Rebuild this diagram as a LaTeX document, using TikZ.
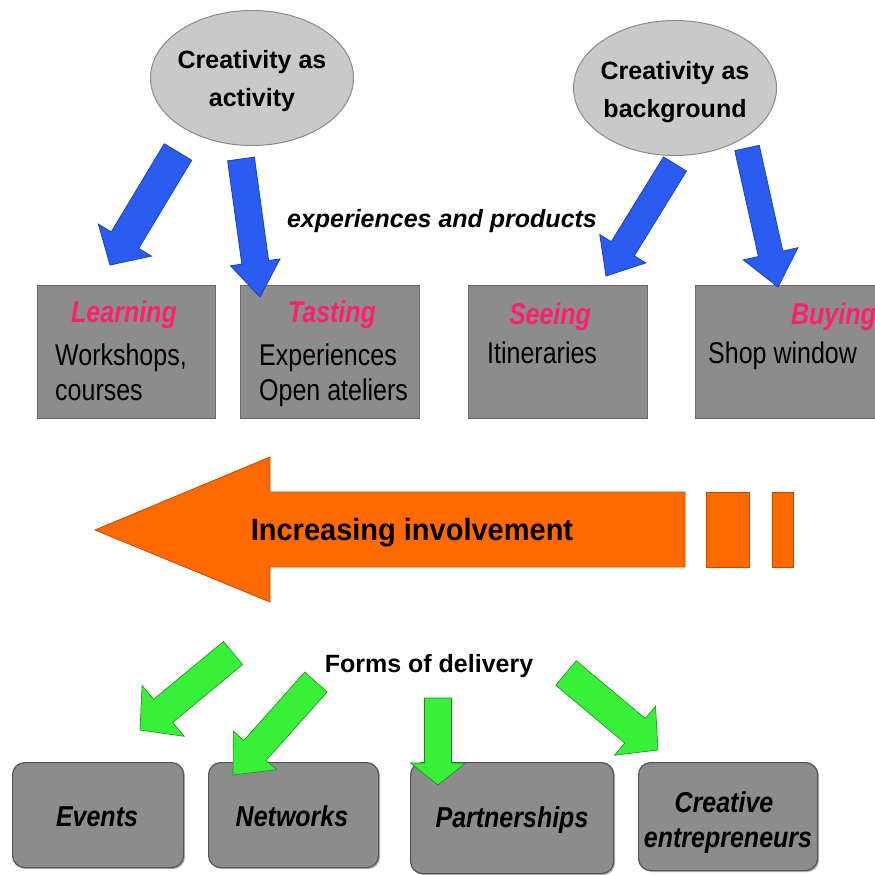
\documentclass[tikz,border=0pt]{standalone}
\usepackage{fontspec}
\usepackage{graphicx}
\setmainfont{Liberation Sans}
\usetikzlibrary{calc,shadows,shapes.geometric}

\definecolor{bluearr}{HTML}{2A5CF2}
\definecolor{bluearrd}{HTML}{1C40B8}
\definecolor{greenarr}{HTML}{38F038}
\definecolor{greenarrd}{HTML}{1E8A1E}
\definecolor{orangearr}{HTML}{FF6A00}
\definecolor{orangearrd}{HTML}{C04A00}
\definecolor{boxgray}{HTML}{8C8C8C}
\definecolor{boxedge}{HTML}{6A6A6A}
\definecolor{botedge}{HTML}{555555}
\definecolor{ellgray}{HTML}{C9C9C9}
\definecolor{ellgrayd}{HTML}{8A8A8A}
\definecolor{pinktxt}{HTML}{FF1F6E}

\newcommand{\vstr}[1]{\scalebox{1}[1.2]{#1}}
\newcommand{\blockarr}[6]{%
  \coordinate (ba-hb) at ($(#3)!#6!(#2)$);
  \draw[#1] ($(#2)!#4!90:(#3)$) -- ($(ba-hb)!#4!90:(#3)$) -- ($(ba-hb)!#5!90:(#3)$)
    -- (#3) -- ($(ba-hb)!#5!-90:(#3)$) -- ($(ba-hb)!#4!-90:(#3)$) -- ($(#2)!#4!-90:(#3)$) -- cycle;
}

\begin{document}
\begin{tikzpicture}[x=1pt,y=-1pt,
  ell/.style={ellipse, draw=ellgrayd, fill=ellgray, line width=1pt, minimum width=203pt, minimum height=135pt, inner sep=0pt},
  topbox/.style={rectangle, draw=boxedge, fill=boxgray, line width=1pt, anchor=north west, inner sep=0pt},
  botbox/.style={rectangle, rounded corners=12pt, draw=botedge, fill=boxgray, line width=1.2pt, anchor=north west, inner sep=0pt,
     drop shadow={shadow xshift=1.5pt, shadow yshift=-1.5pt, fill=black!50, opacity=0.6}},
  lbl/.style={inner sep=0pt, anchor=base, font=\fontsize{25}{30}\selectfont},
  lbll/.style={lbl, anchor=base west},
  bluea/.style={fill=bluearr, draw=bluearrd, line width=0.8pt, line join=miter},
  greena/.style={fill=greenarr, draw=greenarrd, line width=0.6pt, line join=miter},
  orangea/.style={fill=orangearr, draw=orangearrd, line width=0.8pt, line join=miter},
  pinkt/.style={text=pinktxt, font=\fontsize{25}{30}\selectfont\bfseries\itshape}
]
\useasboundingbox (0,0) rectangle (875,875);
\fill[white] (0,0) rectangle (875,875);

% ellipses
\node[ell] (act) at (252,78) {};
\node[lbl, font=\fontsize{25}{30}\selectfont\bfseries] (act1) at (252,68) {Creativity as};
\node[lbl, font=\fontsize{25}{30}\selectfont\bfseries] (act2) at (252,106) {activity};
\node[ell] (bkg) at (675,88) {};
\node[lbl, font=\fontsize{25}{30}\selectfont\bfseries] (bkg1) at (675,80) {Creativity as};
\node[lbl, font=\fontsize{25}{30}\selectfont\bfseries] (bkg2) at (675,117) {background};

% top boxes
\node[topbox, minimum width=178pt, minimum height=133pt] (learn) at (37,285) {};
\node[topbox, minimum width=179pt, minimum height=133pt] (taste) at (240,285) {};
\node[topbox, minimum width=179pt, minimum height=133pt] (see) at (468,285) {};
\node[topbox, minimum width=190pt, minimum height=133pt] (buy) at (695,285) {};

\node[lbl, pinkt] (learnT) at (124,322) {\vstr{Learning}};
\node[lbll] (learn1) at (55,365) {\vstr{Workshops,}};
\node[lbll] (learn2) at (55,400) {\vstr{courses}};
\node[lbl, pinkt] (tasteT) at (332,322) {\vstr{Tasting}};
\node[lbll] (taste1) at (259,365) {\vstr{Experiences}};
\node[lbll] (taste2) at (259,400) {\vstr{Open ateliers}};
\node[lbl, pinkt] (seeT) at (550,324) {\vstr{Seeing}};
\node[lbll] (see1) at (487,363) {\vstr{Itineraries}};
\node[lbl, pinkt, anchor=base east] (buyT) at (876,324) {\vstr{Buying}};
\node[lbll] (buy1) at (708,363) {\vstr{Shop window}};

\node[lbl, font=\fontsize{25}{30}\selectfont\bfseries\itshape] (exp) at (442,227) {experiences and products};

% blue arrows
\coordinate (a1t) at (178,152); \coordinate (a1h) at (110,265);
\coordinate (a2t) at (241,159); \coordinate (a2h) at (260,297);
\coordinate (a3t) at (675,164); \coordinate (a3h) at (606,276);
\coordinate (a4t) at (747,148); \coordinate (a4h) at (778,287);
\blockarr{bluea}{a1t}{a1h}{16pt}{31pt}{29pt}
\blockarr{bluea}{a2t}{a2h}{13.5pt}{25pt}{35pt}
\blockarr{bluea}{a3t}{a3h}{13.5pt}{27pt}{32pt}
\blockarr{bluea}{a4t}{a4h}{12.5pt}{28pt}{34pt}

% orange arrow
\draw[orangea] (95,530) -- (270,457) -- (270,492) -- (685,492) -- (685,567) -- (270,567) -- (270,602) -- cycle;
\draw[orangea] (706,492) rectangle (749,567);
\draw[orangea] (772,492) rectangle (793,567);
\node[lbl, font=\fontsize{29}{34}\selectfont\bfseries] (inv) at (412,540) {\scalebox{1}[1.06]{Increasing involvement}};

% forms of delivery
\node[lbl, font=\fontsize{25}{30}\selectfont\bfseries] (forms) at (429,672) {Forms of delivery};

% bottom boxes
\node[botbox, minimum width=171pt, minimum height=105pt] (events) at (12,762) {};
\node[botbox, minimum width=170pt, minimum height=105pt] (netw) at (208,762) {};
\node[botbox, minimum width=203pt, minimum height=111pt] (partn) at (410,762) {};
\node[botbox, minimum width=179pt, minimum height=108pt] (creat) at (638,762) {};

\node[lbl, font=\fontsize{25}{30}\selectfont\bfseries\itshape] (eventsT) at (97,826) {\scalebox{1}[1.15]{Events}};
\node[lbl, font=\fontsize{25}{30}\selectfont\bfseries\itshape] (netwT) at (292,826) {\scalebox{1}[1.15]{Networks}};
\node[lbl, font=\fontsize{25}{30}\selectfont\bfseries\itshape] (partnT) at (512,827) {\scalebox{1}[1.15]{Partnerships}};
\node[lbl, font=\fontsize{25}{30}\selectfont\bfseries\itshape] (creatT1) at (724,812) {\scalebox{1}[1.15]{Creative}};
\node[lbl, font=\fontsize{25}{30}\selectfont\bfseries\itshape] (creatT2) at (728,847) {\scalebox{1}[1.15]{entrepreneurs}};

% green arrows
\coordinate (g1t) at (233,653); \coordinate (g1h) at (140,730);
\coordinate (g2t) at (316,682); \coordinate (g2h) at (233,775);
\coordinate (g3t) at (438,698); \coordinate (g3h) at (438,785);
\coordinate (g4t) at (566,673); \coordinate (g4h) at (658,750);
\blockarr{greena}{g1t}{g1h}{15pt}{33pt}{30pt}
\blockarr{greena}{g2t}{g2h}{15pt}{29pt}{33pt}
\blockarr{greena}{g3t}{g3h}{13.5pt}{27.5pt}{22pt}
\blockarr{greena}{g4t}{g4h}{16pt}{32pt}{30pt}
\end{tikzpicture}
\end{document}
